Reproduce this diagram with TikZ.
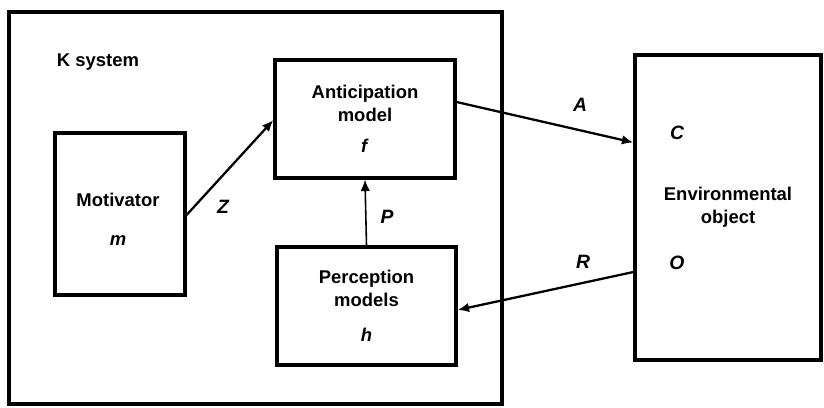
\documentclass[tikz,border=0pt]{standalone}
\usepackage{fontspec}
\setmainfont{Liberation Sans}
\usepackage{tikz}
\usetikzlibrary{arrows.meta,positioning}

\begin{document}
\begin{tikzpicture}[x=0.02cm, y=-0.02cm,
        every node/.style={font=\fontsize{10.5}{13}\selectfont\bfseries},
        block/.style={draw, line width=1.8pt, align=center, inner sep=0pt},
        flow/.style={-{Latex[length=2.3mm, width=1.9mm]}, line width=1.3pt},
        sym/.style={font=\fontsize{11}{13}\selectfont\bfseries\itshape}
      ]
      \useasboundingbox (0,0) rectangle (824,408);

      \node[block, line width=2pt, minimum width=9.86cm, minimum height=7.84cm] (ksys) at (255.5,208) {};
      \node (ksyslabel) at (98,62) {K system};

      \node[block, minimum width=3.6cm, minimum height=2.36cm] (antic) at (365,119)
        {Anticipation\\model\\[5pt]\textit{f}};
      \node[block, minimum width=2.6cm, minimum height=3.24cm] (motiv) at (120,214) {};
      \node[align=center] (motivtext) at (118,219) {Motivator\\[9pt]\textit{m}};
      \node[block, minimum width=3.58cm, minimum height=2.36cm] (percep) at (366.5,306)
        {Perception\\models\\[7pt]\textit{h}};
      \node[block, minimum width=3.72cm, minimum height=6.1cm] (env) at (728,207.5)
        {Environmental\\object};
      \node[sym] (c) at (677,133) {C};
      \node[sym] (o) at (677,263) {O};

      \draw[flow] ([yshift=-0.02cm]motiv.east) -- ([yshift=-0.02cm]antic.west);
      \draw[flow, line width=0.9pt] (percep.north) -- (antic.south);
      \draw[flow] ([yshift=0.34cm]antic.east) -- ([yshift=1.3cm]env.west);
      \draw[flow] ([yshift=-1.29cm]env.west) -- ([yshift=-0.08cm]percep.east);

      \node[sym] (zlabel) at (223,207) {Z};
      \node[sym] (plabel) at (387,217) {P};
      \node[sym] (alabel) at (580,105) {A};
      \node[sym] (rlabel) at (583,262) {R};
    \end{tikzpicture}
\end{document}
